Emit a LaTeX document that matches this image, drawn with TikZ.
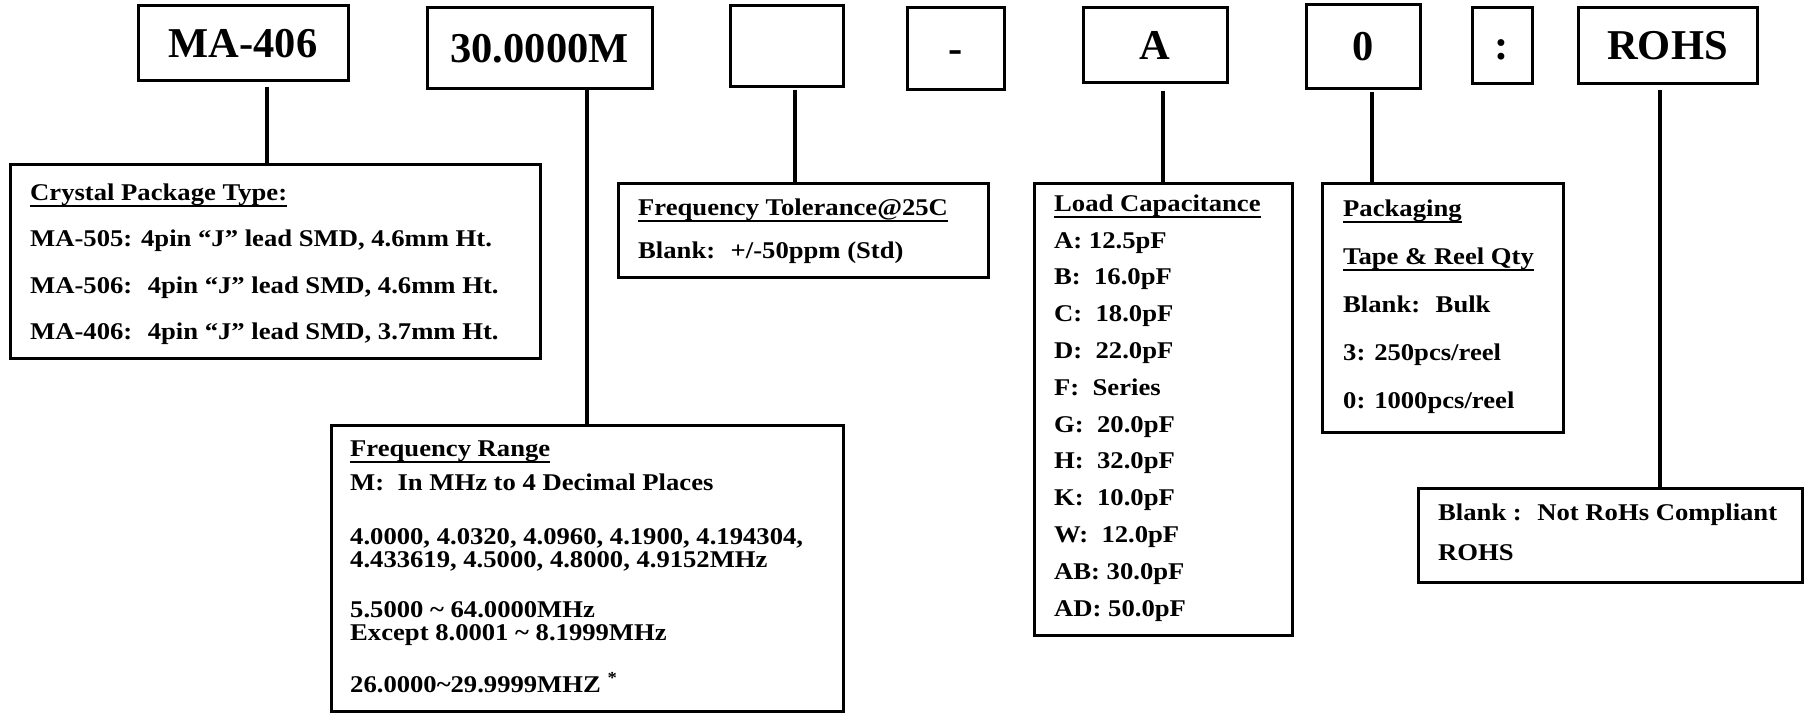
\documentclass[tikz,border=0pt]{standalone}
\usepackage{fontspec}
\setmainfont{Liberation Serif}
\newfontfamily\specfont{Liberation Serif}[FakeStretch=1.11]
\newsavebox{\headbox}
\newcommand{\ulhead}[1]{\sbox{\headbox}{#1}\rlap{\rule[-6.5pt]{\wd\headbox}{1.8pt}}\usebox{\headbox}}
\tikzstyle{codebox} = [rectangle, draw=black, line width=3pt, inner sep=0pt, font=\fontsize{42.5}{50}\selectfont\bfseries, text height=29pt, text depth=0pt]
\tikzstyle{infobox} = [rectangle, draw=black, line width=3pt, inner sep=0pt]
\tikzstyle{infotext} = [anchor=north west, align=left, inner sep=0pt]
\tikzstyle{wire} = [line width=3.5pt]

\begin{document}
\begin{tikzpicture}[x=1pt, y=-1pt]
\useasboundingbox (0,0) rectangle (1806,713);
% part number fields
\node (ma406) [codebox, minimum width=210pt, minimum height=75pt] at (243,42.5) {MA-406};
\node (freq) [codebox, minimum width=225pt, minimum height=81pt] at (539.5,47.5) {30.0000M};
\node (tol) [codebox, minimum width=113pt, minimum height=81pt] at (786.5,45.5) {};
\node (dash) [codebox, minimum width=97pt, minimum height=82pt] at (955.5,48) {-};
\node (cap) [codebox, minimum width=144pt, minimum height=75pt] at (1155,44.5) {A};
\node (pack) [codebox, minimum width=114pt, minimum height=84pt] at (1363,46) {0};
\node (colon) [codebox, minimum width=60pt, minimum height=76pt] at (1502,45) {:};
\node (rohs) [codebox, minimum width=179pt, minimum height=76pt] at (1667.5,45) {ROHS};
% explanation boxes
\node (pkgbox) [infobox, minimum width=530pt, minimum height=194pt] at (275,261) {};
\node (pkgtext) [infotext, font=\specfont\bfseries\fontsize{24}{46.5}\selectfont] at (30,183.5)
  {\ulhead{Crystal Package Type:}\\
   MA-505: 4pin “J” lead SMD, 4.6mm Ht.\\
   MA-506:~ 4pin “J” lead SMD, 4.6mm Ht.\\
   MA-406:~ 4pin “J” lead SMD, 3.7mm Ht.};
\node (tolbox) [infobox, minimum width=370pt, minimum height=94pt] at (803,230) {};
\node (toltext) [infotext, font=\specfont\bfseries\fontsize{24}{43}\selectfont] at (638,198.5)
  {\ulhead{Frequency Tolerance@25C}\\
   Blank:~ +/-50ppm (Std)};
\node (rangebox) [infobox, minimum width=512pt, minimum height=286pt] at (587,568) {};
\node (rangetext) [infotext, font=\specfont\bfseries\fontsize{24}{23}\selectfont] at (350,440.5)
  {\ulhead{Frequency Range}\\[10pt]
   M:~ In MHz to 4 Decimal Places\\[31pt]
   4.0000, 4.0320, 4.0960, 4.1900, 4.194304,\\
   4.433619, 4.5000, 4.8000, 4.9152MHz\\[27pt]
   5.5000 \textasciitilde{} 64.0000MHz\\
   Except 8.0001 \textasciitilde{} 8.1999MHz\\[26pt]
   26.0000\textasciitilde 29.9999MHZ \textsuperscript{*}};
\node (capbox) [infobox, minimum width=258pt, minimum height=452pt] at (1163,409) {};
\node (captext) [infotext, font=\specfont\bfseries\fontsize{24}{36.8}\selectfont] at (1054,194.5)
  {\ulhead{Load Capacitance}\\
   A: 12.5pF\\ B:~ 16.0pF\\ C:~ 18.0pF\\ D:~ 22.0pF\\ F:~ Series\\ G:~ 20.0pF\\
   H:~ 32.0pF\\ K:~ 10.0pF\\ W:~ 12.0pF\\ AB: 30.0pF\\ AD: 50.0pF};
\node (packbox) [infobox, minimum width=241pt, minimum height=249pt] at (1442.5,307.5) {};
\node (packtext) [infotext, font=\specfont\bfseries\fontsize{24}{48}\selectfont] at (1343,199.5)
  {\ulhead{Packaging}\\
   \ulhead{Tape \& Reel Qty}\\
   Blank:~ Bulk\\
   3: 250pcs/reel\\
   0: 1000pcs/reel};
\node (rohsbox) [infobox, minimum width=384pt, minimum height=94pt] at (1610,535) {};
\node (rohstext) [infotext, font=\specfont\bfseries\fontsize{24}{40}\selectfont] at (1438,503.5)
  {Blank :~ Not RoHs Compliant\\
   ROHS};
% connectors
\coordinate (ma406foot) at ([xshift=24pt]ma406.south);
\draw [wire, shorten <=5pt] (ma406foot) -- (ma406foot |- pkgbox.north);
\draw [wire] (freq.south -| rangebox.north) -- (rangebox.north);
\coordinate (tolfoot) at ([xshift=8.5pt]tol.south);
\draw [wire, shorten <=2pt] (tolfoot) -- (tolfoot |- tolbox.north);
\draw [wire, shorten <=7pt] (cap.south -| capbox.north) -- (capbox.north);
\coordinate (packfoot) at ([xshift=9pt]pack.south);
\draw [wire, shorten <=2pt] (packfoot) -- (packfoot |- packbox.north);
\coordinate (rohsfoot) at ([xshift=-7.5pt]rohs.south);
\draw [wire, shorten <=5pt] (rohsfoot) -- (rohsfoot |- rohsbox.north);
\end{tikzpicture}
\end{document}
